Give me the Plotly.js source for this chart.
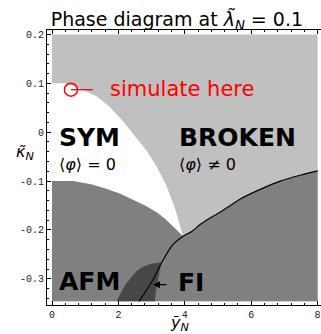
<!DOCTYPE html>
<html>
<head>
<meta charset="utf-8">
<script src="https://cdn.plot.ly/plotly-3.0.1.min.js"></script>
<style>
  html, body { margin: 0; padding: 0; background: #fff; overflow: hidden; }
  #plot { width: 321px; height: 334px; }
</style>
</head>
<body>
<div id="plot"></div>
<script>
// Parameter window
const yDomain = [0, 8];
const kDomain = [-0.346, 0.2];

// Upper edge of the symmetric phase (SYM / BROKEN)
const symUpperY = [0, 0.39, 0.93, 1.35, 1.75, 2.14, 2.5, 2.85, 3.15, 3.45, 3.7, 3.95];
const symUpperK = [0.1, 0.1, 0.087, 0.073, 0.051, 0.022, -0.008, -0.038, -0.07, -0.11, -0.155, -0.213];

// Lower edge of the symmetric phase (SYM / AFM)
const symLowerY = [0, 0.63, 1.2, 1.65, 2.05, 2.44, 2.8, 3.15, 3.4, 3.64, 3.95];
const symLowerK = [-0.1, -0.1, -0.107, -0.116, -0.126, -0.138, -0.15, -0.164, -0.177, -0.193, -0.213];

// Transition line (drawn in black); index 5 is the triple point
const lineY = [2.62, 2.80, 3.04, 3.30, 3.64, 3.95, 4.21, 4.46, 4.85, 5.06, 5.66, 6.27, 6.87, 7.47, 8.0];
const lineK = [-0.346, -0.328, -0.302, -0.267, -0.230, -0.213, -0.203, -0.189, -0.172, -0.164, -0.137, -0.117, -0.100, -0.088, -0.079];
const tripleIndex = 5;

// Ferrimagnetic pocket
const fiY = [1.95, 2.1, 2.25, 2.4, 2.55, 2.7, 2.85, 3.0, 3.15, 3.30, 3.26, 3.2, 3.16, 3.12, 3.10];
const fiK = [-0.346, -0.325, -0.308, -0.295, -0.284, -0.277, -0.272, -0.269, -0.267, -0.266, -0.279, -0.297, -0.313, -0.330, -0.346];

// Simulation point
const simY = [0.57];
const simK = [0.087];

// Axis ticks
const xTickVals = [0, 2, 4, 6, 8];
const xTickText = ['0', '2', '4', '6', '8'];
const kTickVals = [-0.3, -0.2, -0.1, 0, 0.1, 0.2];
const kTickText = ['-0.3', '-0.2', '-0.1', '0', '0.1', '0.2'];

const LIGHT = '#c0c0c0', MID = '#808080', DARK = '#474747';

const broken = {
  x: [yDomain[0], yDomain[1], yDomain[1], yDomain[0]],
  y: [kDomain[0], kDomain[0], kDomain[1], kDomain[1]],
  fill: 'toself', fillcolor: LIGHT, mode: 'lines', line: {width: 0}
};

const sym = {
  x: symUpperY.concat(symLowerY.slice().reverse()),
  y: symUpperK.concat(symLowerK.slice().reverse()),
  fill: 'toself', fillcolor: '#ffffff', mode: 'lines', line: {width: 0}
};

const ordered = {
  x: symLowerY.concat(lineY.slice(tripleIndex + 1), [yDomain[1], yDomain[0]]),
  y: symLowerK.concat(lineK.slice(tripleIndex + 1), [kDomain[0], kDomain[0]]),
  fill: 'toself', fillcolor: MID, mode: 'lines', line: {width: 0}
};

const fi = {
  x: fiY, y: fiK,
  fill: 'toself', fillcolor: DARK, mode: 'lines', line: {width: 0}
};

const transition = {
  x: lineY, y: lineK, mode: 'lines',
  line: {color: '#000', width: 1.2, shape: 'spline', smoothing: 0.6}
};

const pointer = {
  x: [simY[0], simY[0] + 0.66], y: [simK[0], simK[0]], mode: 'lines',
  line: {color: '#ff0000', width: 1.3}
};

const sim = {
  x: simY, y: simK, mode: 'markers',
  marker: {symbol: 'circle-open', size: 13, color: '#ff0000', line: {width: 1.5, color: '#ff0000'}}
};

const boldFont = {family: 'DejaVu Sans', size: 25, color: '#000'};
const mathFont = {family: 'DejaVu Sans', size: 16, color: '#000'};

function label(x, y, text, font, extra) {
  return Object.assign({x, y, xref: 'x', yref: 'y', text, showarrow: false,
    xanchor: 'left', yanchor: 'middle', font}, extra || {});
}

const annotations = [
  label(0.16, -0.01, '<b>SYM</b>', boldFont),
  label(0.16, -0.066, '⟨<i>φ</i>⟩ = 0', mathFont),
  label(3.75, -0.01, '<b>BROKEN</b>', boldFont),
  label(3.75, -0.066, '⟨<i>φ</i>⟩ ≠ 0', mathFont),
  label(0.16, -0.306, '<b>AFM</b>', boldFont),
  label(3.74, -0.307, '<b>FI</b>', boldFont),
  label(1.70, 0.089, 'simulate here', {family: 'DejaVu Sans', size: 21, color: '#ff0000'}),
  {x: 3.04, y: -0.312, ax: 3.49, ay: -0.312, xref: 'x', yref: 'y', axref: 'x', ayref: 'y',
   text: '', showarrow: true, arrowhead: 2, arrowsize: 1, arrowwidth: 1.4, arrowcolor: '#000'},
  {x: -0.08, y: 0.553, xref: 'paper', yref: 'paper', showarrow: false,
   xanchor: 'center', yanchor: 'middle',
   text: '<i>κ̃</i><sub><i>N</i></sub>', font: {family: 'DejaVu Sans', size: 16, color: '#000'}},
  {x: 0.485, y: -0.066, xref: 'paper', yref: 'paper', showarrow: false,
   xanchor: 'center', yanchor: 'middle',
   text: '<i>ỹ</i><sub><i>N</i></sub>', font: {family: 'DejaVu Sans', size: 16, color: '#000'}}
];

const tickFont = {family: 'Liberation Mono', size: 10, color: '#222'};

const layout = {
  width: 321, height: 334,
  margin: {l: 47, r: 0, t: 30, b: 29},
  paper_bgcolor: '#fff', plot_bgcolor: '#fff',
  showlegend: false, hovermode: false,
  title: {
    text: 'Phase diagram at <i>λ̃</i><sub><i>N</i></sub> = 0.1',
    font: {family: 'DejaVu Sans', size: 19, color: '#000'},
    x: 0.551, xref: 'container', xanchor: 'center',
    y: 0.942, yref: 'container', yanchor: 'middle'
  },
  xaxis: {
    range: [-0.151, 8.102], tickmode: 'array', tickvals: xTickVals, ticktext: xTickText,
    ticks: 'inside', ticklen: 4, tickcolor: '#000', tickwidth: 1,
    minor: {tickmode: 'linear', tick0: 0, dtick: 0.4, ticks: 'inside', ticklen: 2, tickcolor: '#000'},
    showline: true, linecolor: '#000', linewidth: 1, mirror: 'ticks',
    showgrid: false, zeroline: false, tickfont: tickFont, fixedrange: true
  },
  yaxis: {
    range: [-0.3536, 0.2092], tickmode: 'array', tickvals: kTickVals, ticktext: kTickText,
    ticks: 'inside', ticklen: 4, tickcolor: '#000', tickwidth: 1,
    minor: {tickmode: 'linear', tick0: 0, dtick: 0.02, ticks: 'inside', ticklen: 2, tickcolor: '#000'},
    showline: true, linecolor: '#000', linewidth: 1,
    showgrid: false, zeroline: false, tickfont: tickFont, fixedrange: true
  },
  annotations
};

Plotly.newPlot('plot', [broken, sym, ordered, fi, transition, pointer, sim], layout,
  {displayModeBar: false, staticPlot: true});
</script>
</body>
</html>
